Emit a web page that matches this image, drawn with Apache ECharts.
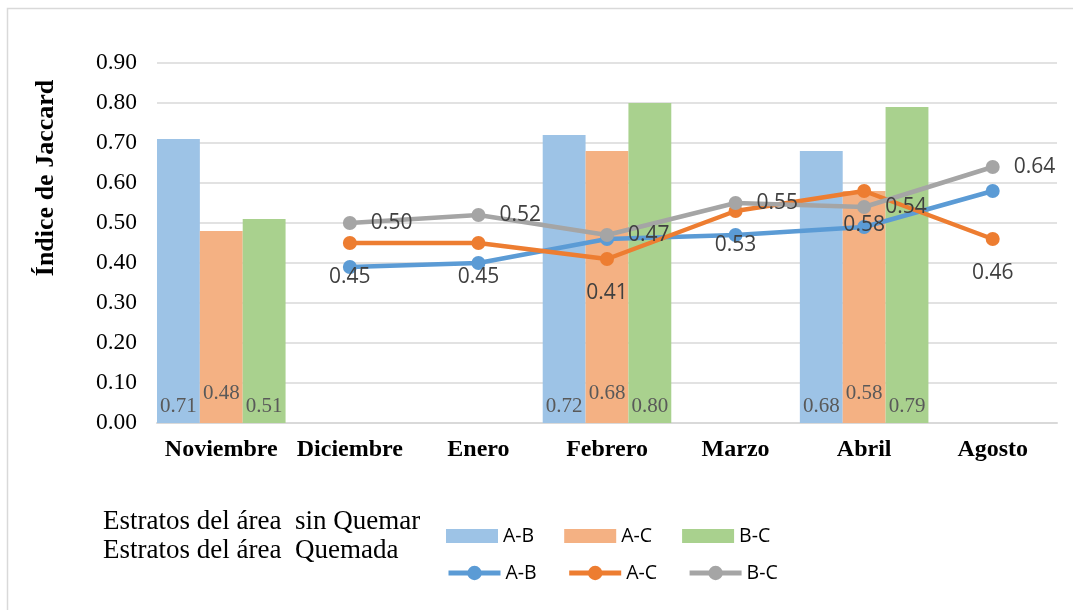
<!DOCTYPE html>
<html>
<head>
<meta charset="utf-8">
<script src="https://cdn.jsdelivr.net/npm/echarts@6/dist/echarts.min.js"></script>
<style>
  html, body { margin: 0; padding: 0; background: #ffffff; }
  #chart { width: 1073px; height: 610px; }
</style>
</head>
<body>
<div id="chart"></div>
<script>
// Meses de muestreo
const categories = ['Noviembre', 'Diciembre', 'Enero', 'Febrero', 'Marzo', 'Abril', 'Agosto'];

// Índice de Jaccard – estratos del área sin quemar (barras)
const sinQuemarAB = [0.71, null, null, 0.72, null, 0.68, null];
const sinQuemarAC = [0.48, null, null, 0.68, null, 0.58, null];
const sinQuemarBC = [0.51, null, null, 0.80, null, 0.79, null];

// Índice de Jaccard – estratos del área quemada (líneas)
const quemadaAB = [null, 0.39, 0.40, 0.46, 0.47, 0.49, 0.58];
const quemadaAC = [null, 0.45, 0.45, 0.41, 0.53, 0.58, 0.46];
const quemadaBC = [null, 0.50, 0.52, 0.47, 0.55, 0.54, 0.64];

// Marcas del eje Y
const yTicks = { min: 0, max: 0.9, step: 0.1 };

const serif = '"Liberation Serif", "Times New Roman", serif';
const sans = '"Open Sans", "Noto Sans", sans-serif';

const barColors = ['#9DC3E6', '#F4B183', '#A9D18E'];
const lineColors = ['#5B9BD5', '#ED7D31', '#A5A5A5'];

function barSeries(name, data, color, labelDist) {
  return {
    name: name,
    type: 'bar',
    data: data,
    barGap: '0%',
    barCategoryGap: '0%',
    itemStyle: { color: color },
    label: {
      show: true,
      position: 'insideBottom',
      distance: labelDist,
      fontFamily: serif,
      fontSize: 21,
      color: '#595959',
      formatter: p => p.value == null ? '' : p.value.toFixed(2)
    },
    z: 2
  };
}

function lineSeries(name, data, color, label) {
  return {
    name: name,
    type: 'line',
    data: data,
    connectNulls: false,
    symbol: 'circle',
    symbolSize: 14,
    lineStyle: { color: color, width: 4.5 },
    itemStyle: { color: color },
    label: label,
    z: 5
  };
}

const chart = echarts.init(document.getElementById('chart'), null, { renderer: 'canvas' });

const option = {
  backgroundColor: '#ffffff',
  animation: false,
  grid: { left: 157, right: 16, top: 63, bottom: 187, containLabel: false },
  xAxis: {
    type: 'category',
    data: categories,
    axisTick: { show: false },
    axisLine: { show: true, lineStyle: { color: '#d9d9d9', width: 2 } },
    axisLabel: {
      interval: 0,
      fontFamily: serif,
      fontWeight: 'bold',
      fontSize: 24,
      color: '#000000',
      margin: 15
    }
  },
  yAxis: {
    type: 'value',
    min: yTicks.min,
    max: yTicks.max,
    interval: yTicks.step,
    axisLine: { show: false },
    axisTick: { show: false },
    splitLine: { lineStyle: { color: '#d9d9d9', width: 1.5 } },
    axisLabel: {
      fontFamily: serif,
      fontSize: 23.5,
      color: '#000000',
      margin: 20,
      formatter: v => v.toFixed(2)
    }
  },
  legend: [
    {
      data: ['sinQuemar A-B', 'sinQuemar A-C', 'sinQuemar B-C'],
      left: 446, top: 526,
      padding: 0,
      itemWidth: 52, itemHeight: 14, itemGap: 30,
      icon: 'rect',
      formatter: n => n.split(' ').pop(),
      textStyle: { fontFamily: sans, fontSize: 19.5, color: '#000000' },
      selectedMode: false
    },
    {
      data: ['quemada A-B', 'quemada A-C', 'quemada B-C'],
      left: 446, top: 563,
      padding: 0,
      itemWidth: 52, itemHeight: 18, itemGap: 30,
      lineStyle: { width: 5 },
      formatter: n => n.split(' ').pop(),
      textStyle: { fontFamily: sans, fontSize: 19.5, color: '#000000' },
      selectedMode: false
    }
  ],
  graphic: [
    {
      type: 'rect',
      shape: { x: 7.5, y: 8.5, width: 1200, height: 800 },
      style: { fill: 'none', stroke: '#d9d9d9', lineWidth: 1.5 },
      silent: true
    },
    {
      type: 'text',
      x: 46, y: 178,
      rotation: Math.PI / 2,
      style: {
        text: 'Índice de Jaccard',
        fontFamily: serif, fontWeight: 'bold', fontSize: 26,
        fill: '#000000', align: 'center', verticalAlign: 'middle'
      }
    },
    {
      type: 'text',
      left: 103, top: 508,
      style: { text: 'Estratos del área  sin Quemar', fontFamily: serif, fontSize: 27, fill: '#000000' }
    },
    {
      type: 'text',
      left: 103, top: 537,
      style: { text: 'Estratos del área  Quemada', fontFamily: serif, fontSize: 27, fill: '#000000' }
    }
  ],
  series: [
    barSeries('sinQuemar A-B', sinQuemarAB, barColors[0], 6),
    barSeries('sinQuemar A-C', sinQuemarAC, barColors[1], 19),
    barSeries('sinQuemar B-C', sinQuemarBC, barColors[2], 6),
    lineSeries('quemada A-B', quemadaAB, lineColors[0], { show: false }),
    lineSeries('quemada A-C', quemadaAC, lineColors[1], {
      show: true, position: 'bottom', distance: 17,
      fontFamily: sans, fontSize: 21, color: '#404040',
      formatter: p => p.value.toFixed(2)
    }),
    lineSeries('quemada B-C', quemadaBC, lineColors[2], {
      show: true, position: 'right', distance: 14,
      fontFamily: sans, fontSize: 21, color: '#404040',
      formatter: p => p.value.toFixed(2)
    })
  ]
};

chart.setOption(option);
</script>
</body>
</html>
